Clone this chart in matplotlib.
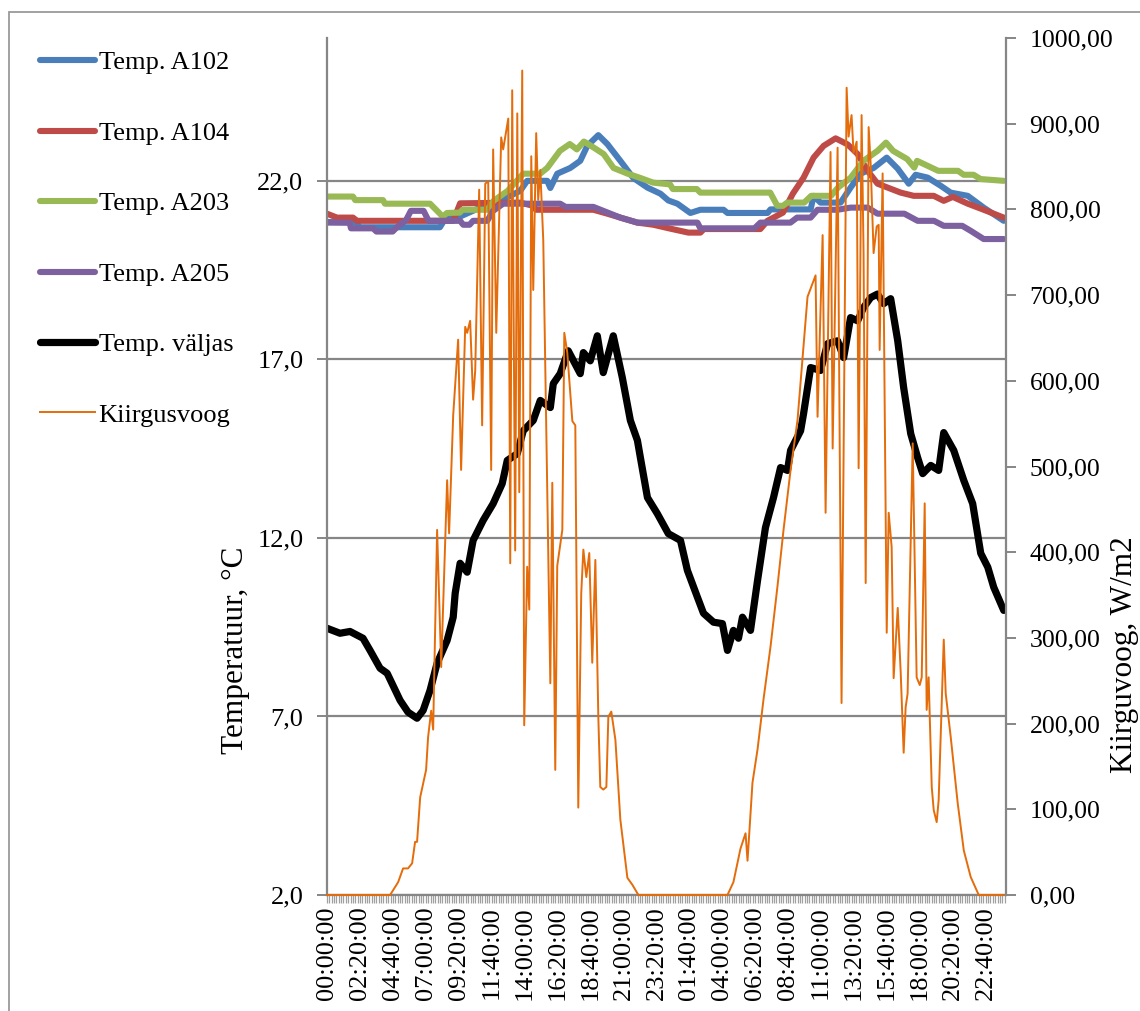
import numpy as np
import matplotlib
matplotlib.use("Agg")
import matplotlib.pyplot as plt
from matplotlib.ticker import FuncFormatter
from matplotlib.patches import Rectangle

plt.rcParams['font.family'] = ['Liberation Serif', 'DejaVu Serif']

# time axis: hours from the start of the 48 h record (10 min logging)
tick_labels = ["00:00:00", "02:20:00", "04:40:00", "07:00:00", "09:20:00", "11:40:00",
               "14:00:00", "16:20:00", "18:40:00", "21:00:00", "23:20:00", "01:40:00",
               "04:00:00", "06:20:00", "08:40:00", "11:00:00", "13:20:00", "15:40:00",
               "18:00:00", "20:20:00", "22:40:00"]

# Temp. A102
a102_t = [0, 2.0, 2.34, 8.0, 8.37, 9.43, 10.85, 12.27, 13.69, 14.18, 15.6, 15.82, 16.31,
          17.23, 17.94, 18.44, 19.22, 19.86, 20.78, 21.7, 22.7, 23.62, 24.18, 24.82, 25.74,
          26.45, 28.09, 28.37, 31.21, 31.42, 34.26, 34.47, 34.96, 36.38, 37.09, 37.8, 38.72,
          39.65, 40.43, 41.21, 41.7, 42.55, 43.48, 44.18, 45.39, 46.52, 47.94]
a102_v = [20.85, 20.83, 20.7, 20.7, 20.94, 21.0, 21.25, 21.44, 21.72, 22.0, 22.0, 21.8, 22.2,
          22.36, 22.56, 22.98, 23.28, 23.03, 22.56, 22.08, 21.81, 21.64, 21.45, 21.36, 21.1,
          21.19, 21.19, 21.1, 21.1, 21.2, 21.2, 21.58, 21.39, 21.39, 21.81, 22.2, 22.36,
          22.65, 22.34, 21.92, 22.17, 22.09, 21.86, 21.67, 21.58, 21.25, 20.88]

# Temp. A104
a104_t = [0, 0.71, 1.84, 2.13, 8.94, 9.43, 13.69, 14.6, 14.8, 18.87, 19.86, 20.78, 21.99,
          23.12, 24.33, 25.6, 26.45, 26.7, 30.7, 31.2, 32.3, 33.0, 33.76, 34.47, 35.18, 36.03,
          36.88, 37.59, 38.3, 39.0, 39.72, 40.64, 41.56, 42.98, 43.69, 44.33, 45.39, 46.52, 47.94]
a104_v = [21.08, 20.97, 20.97, 20.88, 20.88, 21.37, 21.39, 21.3, 21.19, 21.19, 21.08, 20.97, 20.83,
          20.77, 20.66, 20.55, 20.55, 20.65, 20.65, 20.88, 21.11, 21.64, 22.09, 22.65, 22.98, 23.19,
          23.02, 22.75, 22.28, 21.92, 21.81, 21.67, 21.58, 21.58, 21.44, 21.55, 21.36, 21.19, 20.97]

# Temp. A203
a203_t = [0, 1.84, 2.0, 3.97, 4.1, 7.3, 8.2, 8.5, 9.4, 9.6, 11.35, 11.8, 12.8, 13.9, 15.1, 15.6,
          16.5, 17.2, 17.7, 18.2, 18.9, 19.6, 20.3, 21.3, 22.2, 23.1, 24.3, 24.5, 26.2, 26.45,
          31.4, 31.9, 32.3, 32.6, 33.8, 34.3, 35.7, 36.2, 37.1, 38.0, 39.0, 39.6, 40.1, 41.1,
          41.6, 41.8, 42.55, 43.3, 44.7, 45.1, 45.8, 46.3, 47.94]
a203_v = [21.56, 21.56, 21.46, 21.46, 21.36, 21.36, 21.0, 21.1, 21.11, 21.19, 21.19, 21.44, 21.72,
          22.2, 22.2, 22.36, 22.84, 23.03, 22.88, 23.1, 22.93, 22.75, 22.36, 22.2, 22.08, 21.95,
          21.9, 21.77, 21.77, 21.67, 21.67, 21.3, 21.3, 21.39, 21.39, 21.58, 21.58, 21.81, 22.09,
          22.56, 22.84, 23.07, 22.84, 22.61, 22.37, 22.56, 22.42, 22.28, 22.28, 22.17, 22.17,
          22.05, 22.0]

# Temp. A205
a205_t = [0, 1.6, 1.7, 3.26, 3.5, 4.65, 4.9, 5.6, 5.94, 6.84, 7.2, 9.43, 9.65, 10.1, 10.35,
          11.35, 11.77, 12.48, 16.52, 16.9, 18.87, 19.57, 20.78, 21.99, 26.24, 26.45, 30.28,
          30.7, 32.83, 33.3, 34.26, 34.75, 36.17, 37.09, 38.3, 39.0, 40.9, 41.84, 43.0, 43.69,
          45.0, 45.6, 46.52, 47.94]
a205_v = [20.83, 20.83, 20.67, 20.67, 20.58, 20.58, 20.68, 20.9, 21.16, 21.16, 20.88, 20.88,
          20.77, 20.77, 20.88, 20.88, 21.16, 21.36, 21.36, 21.27, 21.27, 21.16, 20.97, 20.83,
          20.83, 20.67, 20.67, 20.83, 20.83, 20.97, 20.97, 21.19, 21.19, 21.25, 21.25, 21.08,
          21.08, 20.88, 20.88, 20.74, 20.74, 20.6, 20.37, 20.37]

# Temp. väljas (outdoor)
out_t = [0.0, 0.92, 1.63, 2.55, 3.05, 3.76, 4.26, 5.18, 5.74, 6.38,
         6.81, 7.3, 7.8, 8.51, 8.94, 9.08, 9.43, 9.93, 10.35, 11.06,
         11.77, 12.41, 12.77, 13.48, 13.9, 14.61, 15.11, 15.82, 16.03, 16.52,
         17.09, 17.94, 18.16, 18.65, 19.15, 19.57, 20.28, 20.92, 21.49, 21.99,
         22.2, 22.7, 23.4, 24.18, 25.04, 25.53, 26.24, 26.67, 27.38, 28.01,
         28.37, 28.79, 29.15, 29.43, 30.0, 30.5, 31.06, 31.63, 32.13, 32.62,
         32.84, 33.55, 33.76, 34.26, 34.96, 35.46, 36.17, 36.6, 37.09, 37.59,
         38.01, 38.51, 39.0, 39.43, 39.93, 40.43, 40.85, 41.35, 41.84, 42.2,
         42.77, 43.33, 43.69, 44.4, 45.11, 45.74, 46.31, 46.81, 47.23, 47.94]
out_v = [9.47, 9.33, 9.38, 9.19, 8.85, 8.35, 8.21, 7.45, 7.12, 6.95,
         7.17, 7.73, 8.49, 9.13, 9.78, 10.45, 11.29, 11.04, 11.93, 12.49,
         12.96, 13.52, 14.17, 14.36, 15.0, 15.29, 15.85, 15.65, 16.32, 16.6,
         17.24, 16.6, 17.19, 16.96, 17.66, 16.63, 17.66, 16.49, 15.29, 14.73,
         14.25, 13.13, 12.68, 12.12, 11.93, 11.09, 10.34, 9.89, 9.64, 9.6,
         8.85, 9.41, 9.19, 9.78, 9.41, 10.81, 12.29, 13.13, 13.97, 13.89,
         14.45, 15.0, 15.48, 16.77, 16.69, 17.44, 17.52, 17.05, 18.17, 18.08,
         18.45, 18.73, 18.83, 18.56, 18.7, 17.52, 16.21, 14.92, 14.25, 13.8,
         14.03, 13.89, 14.95, 14.45, 13.61, 12.96, 11.57, 11.18, 10.62, 9.97]

# Kiirgusvoog (solar radiation, W/m2)
rad_t = [0, 4.47, 5.04, 5.39, 5.74, 6.03, 6.24, 6.38, 6.6, 7.02,
         7.16, 7.38, 7.52, 7.8, 8.09, 8.51, 8.65, 8.94, 9.29, 9.5,
         9.79, 9.93, 10.14, 10.35, 10.5, 10.78, 10.99, 11.21, 11.42, 11.63,
         11.77, 11.99, 12.34, 12.48, 12.84, 12.98, 13.12, 13.33, 13.48, 13.62,
         13.83, 13.97, 14.18, 14.33, 14.47, 14.61, 14.82, 14.96, 15.11, 15.32,
         15.82, 15.96, 16.17, 16.31, 16.67, 16.81, 17.02, 17.38, 17.59, 17.8,
         18.01, 18.16, 18.37, 18.58, 18.79, 19.01, 19.22, 19.36, 19.57, 19.79,
         19.93, 20.14, 20.43, 20.78, 21.28, 21.63, 22.06, 28.37, 28.79, 29.29,
         29.65, 29.79, 30.14, 30.5, 30.92, 31.42, 31.91, 32.34, 32.84, 33.33,
         34.04, 34.61, 34.75, 35.11, 35.32, 35.67, 35.82, 36.17, 36.45, 36.81,
         36.95, 37.16, 37.3, 37.52, 37.66, 37.87, 38.01, 38.16, 38.37, 38.51,
         38.72, 38.94, 39.08, 39.15, 39.36, 39.65, 39.79, 40.0, 40.14, 40.43,
         40.64, 40.85, 40.99, 41.13, 41.49, 41.77, 41.99, 42.13, 42.34, 42.48,
         42.62, 42.84, 42.98, 43.19, 43.33, 43.69, 43.83, 44.18, 44.68, 45.11,
         45.6, 46.17, 47.94]
rad_v = [0, 0, 15, 31, 31, 37, 62, 62, 114, 146,
         184, 215, 193, 426, 266, 484, 422, 560, 648, 496,
         663, 656, 670, 578, 612, 823, 548, 830, 833, 496,
         870, 656, 884, 870, 906, 387, 939, 402, 912, 470,
         962, 198, 383, 333, 862, 706, 889, 811, 846, 764,
         247, 481, 146, 384, 426, 656, 633, 553, 548, 102,
         352, 403, 371, 399, 271, 391, 208, 126, 123, 126,
         208, 214, 181, 88, 20, 12, 0, 0, 15, 54,
         72, 40, 131, 170, 228, 290, 360, 426, 496, 554,
         698, 723, 558, 770, 446, 867, 521, 872, 224, 942,
         885, 910, 866, 879, 498, 910, 749, 364, 896, 854,
         749, 780, 782, 636, 842, 306, 446, 406, 253, 335,
         260, 166, 219, 235, 527, 254, 245, 254, 457, 216,
         254, 126, 99, 85, 111, 298, 235, 185, 107, 52,
         21, 0, 0]

grey = '#868686'

fig = plt.figure(figsize=(11.4, 10.11), dpi=100)
ax1 = fig.add_axes([327 / 1140, 1 - 895 / 1011, 679 / 1140, 857 / 1011])
ax2 = ax1.twinx()

# temperatures on the left axis
l1, = ax1.plot(a102_t, a102_v, color='#4A7EBB', lw=4.4, solid_capstyle='round', label='Temp. A102')
l2, = ax1.plot(a104_t, a104_v, color='#BE4B48', lw=4.4, solid_capstyle='round', label='Temp. A104')
l3, = ax1.plot(a203_t, a203_v, color='#98B954', lw=4.4, solid_capstyle='round', label='Temp. A203')
l4, = ax1.plot(a205_t, a205_v, color='#7D60A0', lw=4.4, solid_capstyle='round', label='Temp. A205')
l5, = ax1.plot(out_t, out_v, color='black', lw=5.2, solid_capstyle='round', label='Temp. väljas')
# radiation on the right axis
l6, = ax2.plot(rad_t, rad_v, color='#E46C0A', lw=1.4, clip_on=False, zorder=5, label='Kiirgusvoog')

ax1.set_xlim(0, 48.1)
ax1.set_ylim(2, 26)
ax2.set_ylim(0, 1000)

ax1.set_yticks([2, 7, 12, 17, 22])
ax1.yaxis.set_major_formatter(FuncFormatter(lambda v, p: f"{v:.1f}".replace('.', ',')))
ax2.set_yticks(np.arange(0, 1001, 100))
ax2.yaxis.set_major_formatter(FuncFormatter(lambda v, p: f"{v:.2f}".replace('.', ',')))

ax1.set_xticks(np.arange(len(tick_labels)) * 140 / 60)
ax1.set_xticklabels(tick_labels, rotation=90)
ax1.set_xticks(np.arange(0, 48.05, 1 / 6), minor=True)

ax1.grid(axis='y', color=grey, lw=1.6)
ax1.set_axisbelow(True)

for ax in (ax1, ax2):
    ax.spines['top'].set_visible(False)
    for s in ('left', 'right', 'bottom'):
        ax.spines[s].set_color(grey)
        ax.spines[s].set_linewidth(1.6)
ax1.spines['right'].set_visible(False)
ax2.spines['bottom'].set_visible(False)
ax2.spines['left'].set_visible(False)

ax1.tick_params(axis='y', direction='out', length=7, width=1.4, color=grey, labelsize=19, pad=10)
ax2.tick_params(axis='y', direction='out', length=7, width=1.4, color=grey, labelsize=18.5, pad=10)
ax1.tick_params(axis='x', which='major', direction='out', length=6, width=0.9, color='#a0a0a0',
                labelsize=19, pad=2)
ax1.tick_params(axis='x', which='minor', direction='out', length=6, width=0.9, color='#a0a0a0')

ax1.set_ylabel('Temperatuur, °C', fontsize=22.5)
ax1.yaxis.set_label_coords(-0.113, 0.286)
ax2.set_ylabel('Kiirguvoog, W/m2', fontsize=22.5)
ax2.yaxis.set_label_coords(1.153, 0.28)

fig.legend([l1, l2, l3, l4, l5, l6], [h.get_label() for h in (l1, l2, l3, l4, l5, l6)],
           loc='upper left', bbox_to_anchor=(40 / 1140, 1 - 51 / 1011), frameon=False,
           fontsize=19, handlelength=2.1, handletextpad=0.12, labelspacing=1.78,
           borderpad=0, borderaxespad=0)

# chart area frame
fig.patches.append(Rectangle((9 / 1140, -0.05), 1.05, 1.05 - 12 / 1011, fill=False,
                             edgecolor='#9a9a9a', lw=1.3, transform=fig.transFigure))

fig.savefig('out.png', dpi=100)
